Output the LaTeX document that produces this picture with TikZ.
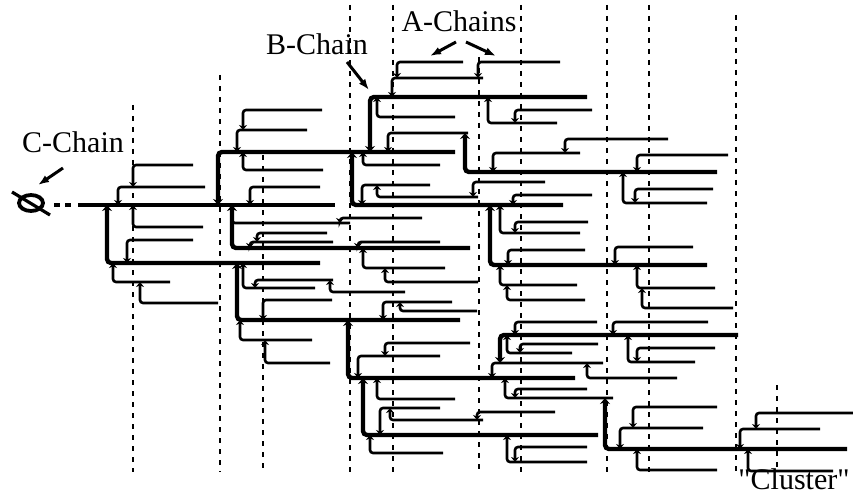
\documentclass[tikz,border=0pt]{standalone}
\usepackage{fontspec}
\setmainfont{Liberation Serif}[Ligatures=TeXOff]
\usetikzlibrary{arrows.meta}
\tikzset{
  dashline/.style={line width=1.7pt, dash pattern=on 5pt off 6pt},
  tb/.style={line width=2.6pt, rounded corners=3pt, -{Stealth[length=5pt,width=8pt]}},
  tk/.style={line width=4.4pt, rounded corners=4pt, -{Stealth[length=6pt,width=10pt]}},
  lbl/.style={font=\fontsize{30}{32}\selectfont, inner sep=0pt, anchor=base},
  pointer/.style={line width=3pt, -{Latex[length=11pt,width=8pt]}}
}
\begin{document}
\begin{tikzpicture}[x=1pt,y=-1pt]
\useasboundingbox[fill=white] (0,0) rectangle (853,497);
% dashed guide lines
\foreach \x/\a/\b in {133/105/472, 220/75/472, 263/155/472, 350/5/472, 393/5/472, 479/57/472, 521/5/472, 607/5/472, 649/5/472, 736/15/472, 777/385/472}
  \draw[dashline] (\x,\a) -- (\x,\b);
% root
\draw[line width=3.8pt] (31,203) ellipse [x radius=12, y radius=8];
\draw[line width=3.2pt] (12,192) -- (50,215);
\draw[line width=4.4pt, dash pattern=on 6pt off 5pt] (54,205) -- (74,205);
\draw[line width=4.4pt] (78,205) -- (335,205);
% thick chains
\foreach \vx/\py/\cy/\ex in {107/205/263/320, 218/205/152/455, 232/205/248/470, 237/263/320/460,
  348/320/378/575, 363/378/435/598, 500/363/335/738, 605/398/449/847, 370/152/97/587,
  465/133/172/717, 352/152/205/563, 490/205/265/707}
  \draw[tk] (\ex,\cy) -- (\vx,\cy) -- (\vx,\py);
% thin branches
\foreach \vx/\py/\cy/\ex in {118/205/187/205, 133/187/165/193, 133/205/227/203, 127/263/240/193,
  113/263/282/170, 140/282/303/218,
  237/152/130/307, 243/130/110/322, 243/152/170/323, 250/205/187/320,
  232/205/223/350, 340/223/218/422,
  250/248/242/333, 257/242/233/327, 358/248/242/440, 363/248/268/445, 385/268/282/478,
  243/263/288/315, 255/288/280/333, 330/280/292/405, 263/320/300/332, 240/320/340/312,
  265/340/363/330, 383/320/302/452, 400/302/311/477,
  358/378/356/440, 385/356/343/470, 377/378/399/455, 380/435/408/440, 390/408/420/483,
  477/420/412/555, 370/435/453/443, 507/435/462/587, 515/462/447/587,
  492/378/363/603, 587/363/378/677, 505/378/398/613, 515/398/389/587,
  507/335/353/572, 520/353/344/598, 515/335/322/597, 613/335/322/708, 628/335/362/695,
  637/362/348/715, 620/449/428/703, 633/428/407/717, 637/449/470/717, 740/449/429/820,
  756/429/413/853, 748/449/471/833,
  377/97/117/455, 392/97/78/483, 397/78/62/463, 478/78/62/560, 488/97/123/557, 515/123/110/592,
  388/152/133/468, 493/172/153/580, 565/153/139/668, 637/172/155/728, 623/172/203/707,
  635/203/189/713, 363/152/165/440, 362/205/185/430, 377/185/197/478, 473/197/182/545,
  513/205/195/592, 500/205/233/580, 515/233/222/588, 508/265/250/585, 615/265/247/693,
  500/265/285/577, 507/285/300/585, 637/265/288/715, 642/288/308/733}
  \draw[tb] (\ex,\cy) -- (\vx,\cy) -- (\vx,\py);
% labels
\node[lbl] (lblC) at (73,153) {C-Chain};
\node[lbl] (lblB) at (317,55) {B-Chain};
\node[lbl] (lblA) at (459,32) {A-Chains};
\node[lbl] (lblCl) at (794,489) {"Cluster"};
\coordinate (cS) at (63,168); \coordinate (cT) at (38,185);
\coordinate (bS) at (347,62); \coordinate (bT) at (369,90);
\coordinate (a1S) at (456,42); \coordinate (a1T) at (430,56);
\coordinate (a2S) at (466,42); \coordinate (a2T) at (496,56);
\draw[pointer] (cS) -- (cT);
\draw[pointer] (bS) -- (bT);
\draw[pointer] (a1S) -- (a1T);
\draw[pointer] (a2S) -- (a2T);
\end{tikzpicture}
\end{document}
